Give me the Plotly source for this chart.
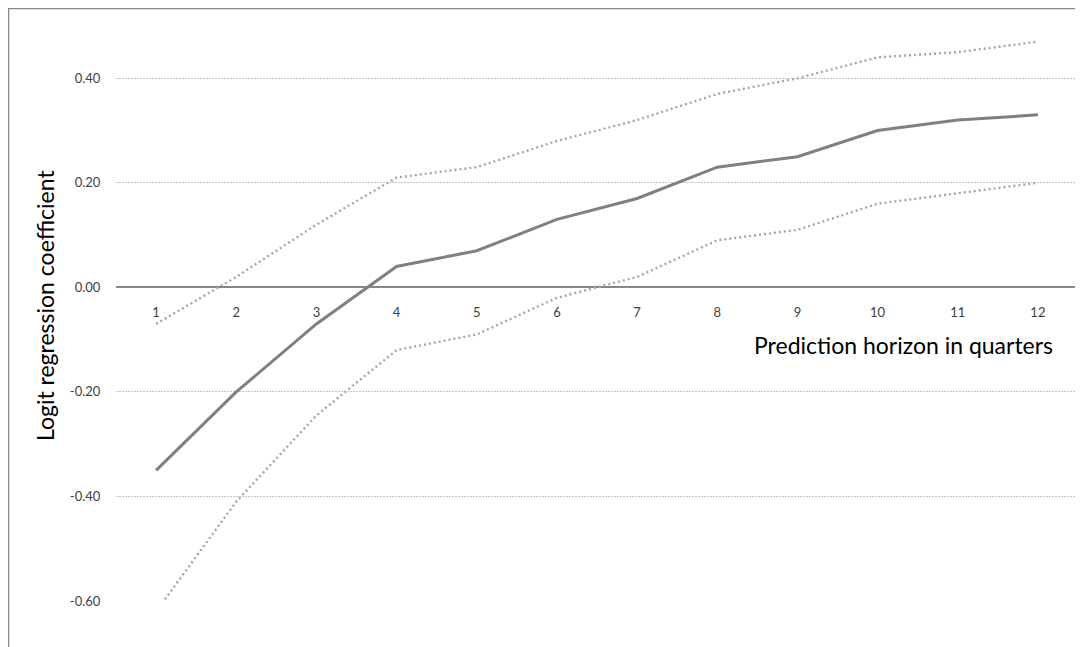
import plotly.graph_objects as go

horizons = [1, 2, 3, 4, 5, 6, 7, 8, 9, 10, 11, 12]
tick_labels = [str(h) for h in horizons]
coef = [-0.35, -0.20, -0.07, 0.04, 0.07, 0.13, 0.17, 0.23, 0.25, 0.30, 0.32, 0.33]
upper = [-0.07, 0.02, 0.12, 0.21, 0.23, 0.28, 0.32, 0.37, 0.40, 0.44, 0.45, 0.47]
lower = [-0.62, -0.41, -0.245, -0.12, -0.09, -0.02, 0.02, 0.09, 0.11, 0.16, 0.18, 0.20]
y_ticks = [-0.6, -0.4, -0.2, 0.0, 0.2, 0.4]

FONT = "Lato, 'Open Sans', sans-serif"

fig = go.Figure()
fig.add_trace(go.Scatter(x=horizons, y=upper, mode="lines",
                         line=dict(color="#a6a6a6", width=2.4, dash="2px,3px"),
                         showlegend=False))
fig.add_trace(go.Scatter(x=horizons, y=lower, mode="lines",
                         line=dict(color="#a6a6a6", width=2.4, dash="2px,3px"),
                         showlegend=False))
fig.add_trace(go.Scatter(x=horizons, y=coef, mode="lines",
                         line=dict(color="#808080", width=3),
                         showlegend=False))

y_min, y_max = -0.6, 0.5
zero_pos = (0 - y_min) / (y_max - y_min)

# page is offset by the 8px body margin; plot area spans page x 116..1078, y 26..601
L, T, W, H = 108, 18, 962, 575


def px(page_x):
    return (page_x - 8 - L) / W


def py(page_y):
    return (T + H - (page_y - 8)) / H


fig.update_layout(
    width=1075, height=639,
    margin=dict(l=L, r=1075 - L - W, t=T, b=639 - T - H),
    paper_bgcolor="white", plot_bgcolor="white",
    font=dict(family=FONT, size=13, color="#404040"),
    xaxis=dict(
        range=[0.5, 12.5],
        tickmode="array", tickvals=horizons, ticktext=tick_labels,
        anchor="free", position=zero_pos,
        showgrid=False, zeroline=False, showline=False,
        ticks="outside", ticklen=13, tickcolor="rgba(0,0,0,0)",
        tickfont=dict(family=FONT, size=13, color="#404040"),
    ),
    yaxis=dict(
        range=[y_min, y_max],
        tickmode="array", tickvals=y_ticks,
        ticktext=[f"{v:.2f}" for v in y_ticks],
        showgrid=True, gridcolor="#c4c4c4", gridwidth=1, griddash="2px,1px",
        zeroline=True, zerolinecolor="#868686", zerolinewidth=2,
        showline=False,
        ticks="outside", ticklen=12, tickcolor="rgba(0,0,0,0)",
        tickfont=dict(family=FONT, size=13, color="#404040"),
    ),
    annotations=[
        dict(text="Prediction horizon in quarters", xref="paper", yref="paper",
             x=px(1055), y=py(345), xanchor="right", yanchor="middle",
             showarrow=False, font=dict(family=FONT, size=23, color="#000000")),
        dict(text="Logit regression coefficient", xref="paper", yref="paper",
             x=px(45), y=py(306), xanchor="center", yanchor="middle",
             textangle=-90, showarrow=False,
             font=dict(family=FONT, size=23, color="#000000")),
    ],
    shapes=[
        dict(type="line", xref="paper", yref="paper",
             x0=px(8), x1=px(1095), y0=py(8.5), y1=py(8.5),
             line=dict(color="#8a8a8a", width=1.5)),
        dict(type="line", xref="paper", yref="paper",
             x0=px(8.5), x1=px(8.5), y0=py(8), y1=py(670),
             line=dict(color="#8a8a8a", width=1.5)),
    ],
)

fig.write_html("out.html")
